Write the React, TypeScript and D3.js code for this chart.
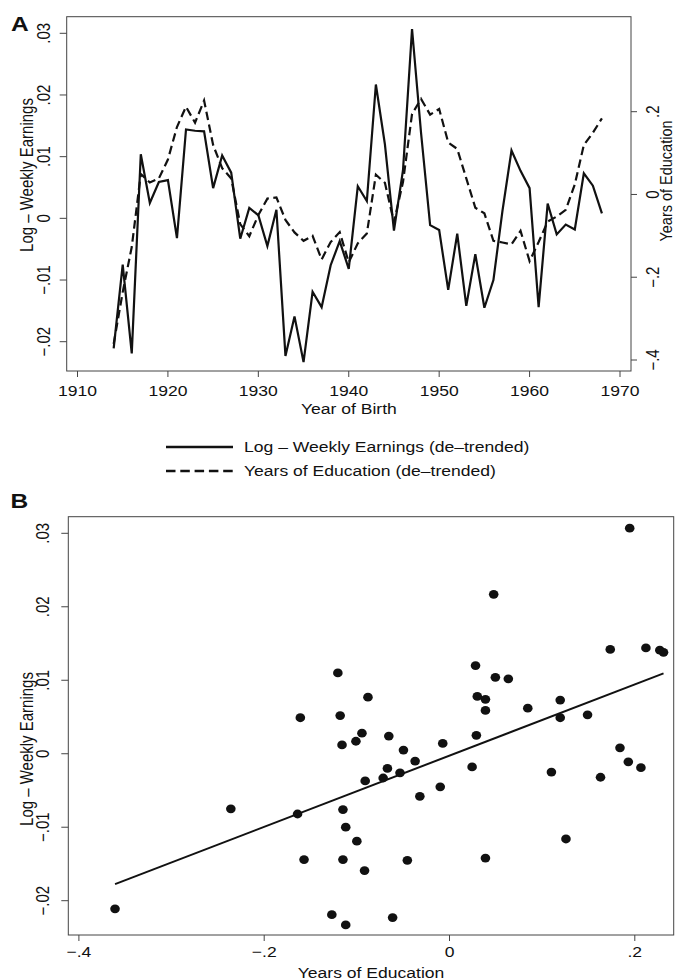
import React, { useEffect, useRef } from "react";
import * as d3 from "d3";

// birth cohorts, de-trended values
const years = [
  1914, 1915, 1916, 1917, 1918, 1919, 1920, 1921, 1922, 1923, 1924, 1925, 1926, 1927,
  1928, 1929, 1930, 1931, 1932, 1933, 1934, 1935, 1936, 1937, 1938, 1939, 1940, 1941,
  1942, 1943, 1944, 1945, 1946, 1947, 1948, 1949, 1950, 1951, 1952, 1953, 1954, 1955,
  1956, 1957, 1958, 1959, 1960, 1961, 1962, 1963, 1964, 1965, 1966, 1967, 1968,
];
const earnings = [
  -0.0211, -0.0075, -0.0219, 0.0104, 0.0025, 0.0059, 0.0062, -0.0032, 0.0144, 0.0142,
  0.0141, 0.0049, 0.0102, 0.0074, -0.0033, 0.0017, 0.0005, -0.0045, 0.0014, -0.0223,
  -0.0159, -0.0233, -0.0119, -0.0144, -0.0076, -0.0037, -0.0082, 0.0052, 0.0028, 0.0217,
  0.012, -0.002, 0.0078, 0.0307, 0.0138, -0.0011, -0.0019, -0.0116, -0.0025, -0.0142,
  -0.0058, -0.0145, -0.01, 0.0012, 0.011, 0.0077, 0.0049, -0.0144, 0.0024, -0.0026,
  -0.001, -0.0018, 0.0073, 0.0053, 0.0008,
];
const education = [
  -0.361, -0.236, -0.127, 0.0495, 0.029, 0.0388, 0.0845, 0.163, 0.212, 0.1735,
  0.227, 0.1195, 0.0635, 0.0388, -0.0716, -0.101, -0.0497, -0.01, -0.0073, -0.0614,
  -0.0917, -0.112, -0.1, -0.157, -0.115, -0.091, -0.164, -0.118, -0.0945, 0.0477,
  0.0281, -0.067, 0.03, 0.1945, 0.231, 0.193, 0.2066, 0.1257, 0.11, 0.0388,
  -0.032, -0.0455, -0.112, -0.116, -0.1205, -0.088, -0.161, -0.115, -0.0655, -0.0534,
  -0.0371, 0.0244, 0.1195, 0.149, 0.184,
];

const yearTicks = [1910, 1920, 1930, 1940, 1950, 1960, 1970];
const earnTicks = [-0.02, -0.01, 0, 0.01, 0.02, 0.03];
const eduTicks = [-0.4, -0.2, 0, 0.2];
const legendLabels = ["Log – Weekly Earnings (de–trended)", "Years of Education (de–trended)"];
const earnTitle = "Log – Weekly Earnings";
const eduTitle = "Years of Education";
const yearTitle = "Year of Birth";

const W = 676;
const H = 980;
const FONT = "'Liberation Sans', Arial, Helvetica, sans-serif";
const SX = 1.17; // the scan is stretched sideways, text too
const INK = "#111";
const AXIS = "#444";
const DASH = "8.5,4.5";

const fmt = (v: number) => {
  if (v === 0) return "0";
  const s = String(Math.abs(+v.toFixed(3))).replace(/^0/, "");
  return (v < 0 ? "\u2212" : "") + s;
};

function label(g: any, x: number, y: number, str: string, o: any = {}) {
  g.append("text")
    .attr("transform", `translate(${x},${y}) scale(${SX},1) rotate(${o.rot || 0})`)
    .attr("text-anchor", o.anchor || "middle")
    .attr("fill", INK)
    .style("font-family", FONT)
    .style("font-size", `${o.size || 15}px`)
    .style("font-weight", o.weight || "normal")
    .text(str);
}

export default function App() {
  const ref = useRef<SVGSVGElement>(null);

  useEffect(() => {
    const svg = d3.select(ref.current);
    svg.selectAll("*").remove();

    // ---------- panel A: time series ----------
    const A = { l: 66.7, r: 631, t: 16.7, b: 371 };
    const xA = d3.scaleLinear().domain([1910, 1970]).range([77.5, 620]);
    const yA = d3.scaleLinear().domain([-0.02, 0.03]).range([341.7, 33.3]);
    const yA2 = d3.scaleLinear().domain([-0.4, 0.2]).range([360, 111.7]);

    const gA = svg.append("g");
    gA.append("rect")
      .attr("x", A.l).attr("y", A.t)
      .attr("width", A.r - A.l).attr("height", A.b - A.t)
      .attr("fill", "none").attr("stroke", AXIS).attr("stroke-width", 1);

    yearTicks.forEach((t) => {
      gA.append("line").attr("x1", xA(t)).attr("x2", xA(t)).attr("y1", A.b).attr("y2", A.b + 6)
        .attr("stroke", AXIS);
      label(gA, xA(t), 395.7, String(t));
    });
    label(gA, (A.l + A.r) / 2, 414.3, yearTitle);

    earnTicks.forEach((t) => {
      gA.append("line").attr("x1", A.l - 7).attr("x2", A.l).attr("y1", yA(t)).attr("y2", yA(t))
        .attr("stroke", AXIS);
      label(gA, 50, yA(t), fmt(t), { rot: -90 });
    });
    label(gA, 32.6, 175, earnTitle, { rot: -90 });

    eduTicks.forEach((t) => {
      gA.append("line").attr("x1", A.r).attr("x2", A.r + 6).attr("y1", yA2(t)).attr("y2", yA2(t))
        .attr("stroke", AXIS);
      label(gA, 658.5, yA2(t), fmt(t), { rot: -90 });
    });
    // squeezed against the right edge, as in the scan
    label(gA, 671.5, 181, eduTitle, { rot: -90, size: 14.5 });

    const lineEarn = d3.line<number>().x((d, i) => xA(years[i])).y((d) => yA(d));
    const lineEdu = d3.line<number>().x((d, i) => xA(years[i])).y((d) => yA2(d));

    gA.append("path").datum(education).attr("d", lineEdu)
      .attr("fill", "none").attr("stroke", INK).attr("stroke-width", 2.2)
      .attr("stroke-dasharray", DASH);
    gA.append("path").datum(earnings).attr("d", lineEarn)
      .attr("fill", "none").attr("stroke", INK).attr("stroke-width", 2.2)
      .attr("stroke-linejoin", "miter");

    label(gA, 11, 31, "A", { anchor: "start", size: 21, weight: "bold" });

    // legend
    const gL = svg.append("g");
    legendLabels.forEach((s, i) => {
      const ly = 447 + i * 24;
      gL.append("line").attr("x1", 166).attr("x2", 233).attr("y1", ly).attr("y2", ly)
        .attr("stroke", INK).attr("stroke-width", 2.4)
        .attr("stroke-dasharray", i === 1 ? "9.5,4.8" : null);
      label(gL, 244, ly + 5.4, s, { anchor: "start" });
    });

    // ---------- panel B: scatter + fit ----------
    const B = { l: 68.3, r: 673.7, t: 516.7, b: 935 };
    const xB = d3.scaleLinear().domain([-0.4, 0.2]).range([78.9, 634.8]);
    const yB = d3.scaleLinear().domain([-0.02, 0.03]).range([900.7, 533.3]);

    const gB = svg.append("g");
    gB.append("rect")
      .attr("x", B.l).attr("y", B.t)
      .attr("width", B.r - B.l).attr("height", B.b - B.t)
      .attr("fill", "none").attr("stroke", AXIS).attr("stroke-width", 1);

    eduTicks.forEach((t) => {
      gB.append("line").attr("x1", xB(t)).attr("x2", xB(t)).attr("y1", B.b).attr("y2", B.b + 6)
        .attr("stroke", AXIS);
      label(gB, xB(t), 956.7, fmt(t));
    });
    label(gB, (B.l + B.r) / 2, 977.5, eduTitle);

    earnTicks.forEach((t) => {
      gB.append("line").attr("x1", B.l - 7).attr("x2", B.l).attr("y1", yB(t)).attr("y2", yB(t))
        .attr("stroke", AXIS);
      label(gB, 48.5, yB(t), fmt(t), { rot: -90 });
    });
    label(gB, 32.6, 749, earnTitle, { rot: -90 });

    // OLS fit of earnings on education
    const mx = d3.mean(education)!;
    const my = d3.mean(earnings)!;
    const sxy = d3.sum(education, (x, i) => (x - mx) * (earnings[i] - my));
    const sxx = d3.sum(education, (x) => (x - mx) * (x - mx));
    const slope = sxy / sxx;
    const icpt = my - slope * mx;
    const ext = d3.extent(education) as [number, number];
    gB.append("line")
      .attr("x1", xB(ext[0])).attr("y1", yB(icpt + slope * ext[0]))
      .attr("x2", xB(ext[1])).attr("y2", yB(icpt + slope * ext[1]))
      .attr("stroke", INK).attr("stroke-width", 2);

    gB.selectAll("ellipse.pt")
      .data(education)
      .join("ellipse")
      .attr("class", "pt")
      .attr("cx", (d) => xB(d))
      .attr("cy", (d, i) => yB(earnings[i]))
      .attr("rx", 4.8)
      .attr("ry", 4.4)
      .attr("fill", INK);

    label(gB, 10.5, 508, "B", { anchor: "start", size: 21, weight: "bold" });
  }, []);

  return (
    <svg
      ref={ref}
      width={W}
      height={H}
      style={{ position: "absolute", left: 0, top: 0, background: "#fff" }}
    />
  );
}
